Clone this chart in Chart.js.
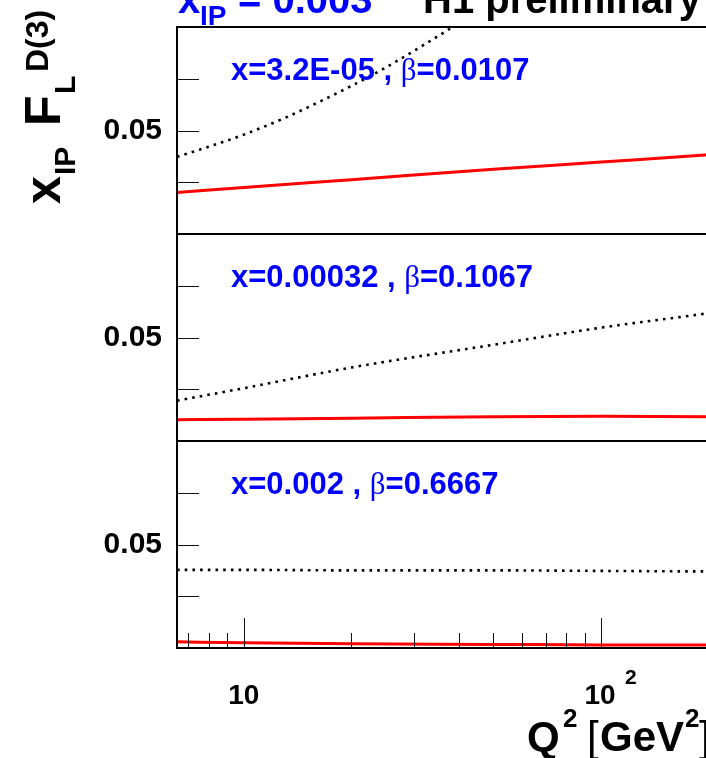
<!DOCTYPE html>
<html>
<head>
<meta charset="utf-8">
<script src="https://cdn.jsdelivr.net/npm/chart.js@4.4.0/dist/chart.umd.min.js"></script>
<style>
  html, body { margin: 0; padding: 0; background: #fff; overflow: hidden; }
  #wrap { width: 706px; height: 758px; overflow: hidden; }
  canvas { display: block; }
</style>
</head>
<body>
<div id="wrap"><canvas id="fl" width="760" height="758"></canvas></div>
<script>
// Q^2 points (GeV^2)
const q2 = [6.5, 10, 20, 50, 100, 200, 245];
const q2Steep = [6.5, 8, 10, 13, 16, 20, 25, 32, 40, 50];

// x_IP * F_L^D(3), one pair of curves per panel
const top_red = [0.0380, 0.0390, 0.0405, 0.0425, 0.0439, 0.0453, 0.0458];
const top_dot = [0.0449, 0.0469, 0.0492, 0.0524, 0.0553, 0.0586, 0.0622, 0.0666, 0.0708, 0.0754];
const mid_red = [0.0341, 0.0342, 0.0344, 0.0347, 0.0348, 0.0347, 0.0347];
const mid_dot = [0.0378, 0.0402, 0.0442, 0.0486, 0.0519, 0.0547, 0.0556];
const bot_red = [0.0312, 0.0310, 0.0308, 0.0307, 0.0306, 0.0306, 0.0306];
const bot_dot = [0.0451, 0.0451, 0.0450, 0.0450, 0.0449, 0.0448, 0.0448];

const panelX = ['3.2E-05', '0.00032', '0.002'];
const panelBeta = ['0.0107', '0.1067', '0.6667'];

const yTicks = [0.04, 0.05, 0.06];
const yLabelled = 0.05;
const xTicks = [7, 8, 9, 10, 20, 30, 40, 50, 60, 70, 80, 90, 100, 200];
const xMajor = [10, 100];

const FONT = '"Liberation Sans", Arial, Helvetica, sans-serif';
const SERIF = '"Liberation Serif", "DejaVu Serif", serif';
const BLUE = '#0000ff';

function pts(xs, ys) { return ys.map((v, i) => ({ x: xs[i], y: v })); }

function txt(ctx, s, x, y, size, color, weight, family) {
  ctx.font = (weight || 'bold') + ' ' + size + 'px ' + (family || FONT);
  ctx.fillStyle = color || '#000';
  ctx.fillText(s, x, y);
  return x + ctx.measureText(s).width;
}

const rootStyle = {
  id: 'rootStyle',
  afterDraw(chart) {
    const ctx = chart.ctx;
    const xs = chart.scales.x;
    const panels = [chart.scales.y1, chart.scales.y2, chart.scales.y3];
    ctx.save();
    ctx.textBaseline = 'alphabetic';
    ctx.textAlign = 'left';

    // ticks inside the frame
    ctx.strokeStyle = '#111';
    ctx.lineWidth = 1;
    panels.forEach(s => {
      yTicks.forEach(v => {
        const py = Math.round(s.getPixelForValue(v)) + 0.5;
        ctx.beginPath(); ctx.moveTo(xs.left, py); ctx.lineTo(xs.left + 22, py); ctx.stroke();
      });
    });
    const yb = panels[2].bottom;
    xTicks.forEach(v => {
      const px = Math.round(xs.getPixelForValue(v)) + 0.5;
      const len = xMajor.includes(v) ? 30 : 15;
      ctx.beginPath(); ctx.moveTo(px, yb); ctx.lineTo(px, yb - len); ctx.stroke();
    });

    // frames
    ctx.strokeStyle = '#000';
    ctx.lineWidth = 2;
    panels.forEach(s => ctx.strokeRect(xs.left, s.top, xs.right - xs.left, s.bottom - s.top));

    // panel captions
    panels.forEach((s, i) => {
      const by = s.top + 53;
      let x = txt(ctx, 'x=' + panelX[i] + ' , ', 231, by, 31, BLUE);
      x = txt(ctx, 'β', x, by, 31, BLUE, 'normal', SERIF);
      txt(ctx, '=' + panelBeta[i], x, by, 31, BLUE);
    });

    // x tick labels
    ctx.textAlign = 'center';
    txt(ctx, '10', xs.getPixelForValue(10), 704, 28);
    txt(ctx, '10', xs.getPixelForValue(100) - 1, 704, 28);
    ctx.textAlign = 'left';
    txt(ctx, '2', xs.getPixelForValue(100) + 24, 684, 21);

    // x title
    txt(ctx, 'Q', 527, 751, 42);
    txt(ctx, '2', 563, 727, 26);
    txt(ctx, '[', 587, 751, 42, '#000', 'normal');
    txt(ctx, 'GeV', 600, 751, 42);
    txt(ctx, '2', 685, 727, 26);
    txt(ctx, ']', 699, 751, 42, '#000', 'normal');

    // top title (cut by the window edge)
    txt(ctx, 'x', 178, 13, 40, BLUE);
    txt(ctx, 'IP', 200, 25, 28, BLUE);
    txt(ctx, '= 0.003', 238, 13, 40, BLUE);
    txt(ctx, 'H1 preliminary', 423, 13, 40);

    // y title, rotated
    ctx.translate(60, 205);
    ctx.rotate(-Math.PI / 2);
    txt(ctx, 'x', 1, 0, 50);
    txt(ctx, 'IP', 30, 15, 30);
    txt(ctx, 'F', 79, 0, 50);
    txt(ctx, 'L', 111, 15, 30);
    txt(ctx, 'D(3)', 133, -12, 32);
    ctx.restore();
  }
};

function yAxis(weight) {
  return {
    type: 'linear', position: 'left', stack: 'panels', stackWeight: 1, weight: weight,
    min: 0.03, max: 0.07,
    grid: { display: false, drawTicks: false, tickLength: 0 },
    border: { display: false },
    afterFit(s) { s.width = 177; s.paddingTop = 0; s.paddingBottom = 0; },
    afterBuildTicks(s) { s.ticks = yTicks.map(v => ({ value: v })); },
    ticks: {
      padding: 15, color: '#000', autoSkip: false,
      font: { family: FONT, size: 30, weight: 'bold' },
      callback: v => (Math.abs(v - yLabelled) < 1e-9 ? '0.05' : '')
    }
  };
}

const red = (data, axis) => ({
  data, yAxisID: axis, borderColor: '#ff0000', borderWidth: 3,
  pointRadius: 0, cubicInterpolationMode: 'monotone', fill: false
});
const dotted = (data, axis) => ({
  data, yAxisID: axis, borderColor: '#000', borderWidth: 2.6, borderDash: [2.6, 5.1],
  pointRadius: 0, cubicInterpolationMode: 'monotone', fill: false
});

new Chart(document.getElementById('fl'), {
  type: 'line',
  data: {
    datasets: [
      dotted(pts(q2Steep, top_dot), 'y1'),
      red(pts(q2, top_red), 'y1'),
      dotted(pts(q2, mid_dot), 'y2'),
      red(pts(q2, mid_red), 'y2'),
      dotted(pts(q2, bot_dot), 'y3'),
      red(pts(q2, bot_red), 'y3')
    ]
  },
  options: {
    responsive: false,
    animation: false,
    layout: { padding: { top: 27, bottom: 110, left: 0, right: 20 } },
    plugins: { legend: { display: false }, tooltip: { enabled: false } },
    scales: {
      x: { type: 'logarithmic', min: 6.5, max: 245, display: false },
      y1: yAxis(3),
      y2: yAxis(2),
      y3: yAxis(1)
    }
  },
  plugins: [rootStyle]
});
</script>
</body>
</html>
